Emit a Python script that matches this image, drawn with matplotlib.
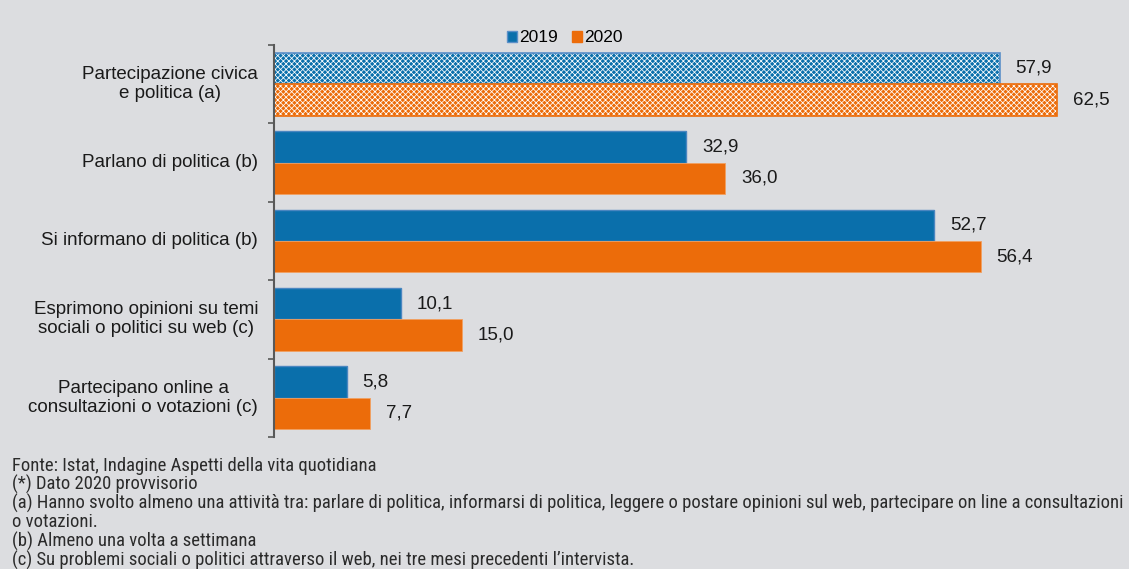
import matplotlib
matplotlib.use("Agg")
import matplotlib.pyplot as plt
from matplotlib import font_manager
import numpy as np

# dati
categorie = [
    "Partecipazione civica\ne politica (a)",
    "Parlano di politica (b)",
    "Si informano di politica (b)",
    "Esprimono opinioni su temi\nsociali o politici su web (c)",
    "Partecipano online a\nconsultazioni o votazioni (c)",
]
valori_2019 = [57.9, 32.9, 52.7, 10.1, 5.8]
valori_2020 = [62.5, 36.0, 56.4, 15.0, 7.7]
anni = ["2019", "2020"]
note = [
    "Fonte: Istat, Indagine Aspetti della vita quotidiana",
    "(*) Dato 2020 provvisorio",
    "(a) Hanno svolto almeno una attività tra: parlare di politica, informarsi di politica, leggere o postare opinioni sul web, partecipare on line a consultazioni",
    "o votazioni.",
    "(b) Almeno una volta a settimana",
    "(c) Su problemi sociali o politici attraverso il web, nei tre mesi precedenti l’intervista.",
]

BLU = "#0a6fab"
ARANCIO = "#ec6c0a"
SFONDO = "#dcdde0"

plt.rcParams["font.family"] = ["Liberation Sans", "DejaVu Sans"]
plt.rcParams["hatch.linewidth"] = 0.55


def font_stretto():
    # cerca un font condensato tra quelli installati
    cand = []
    for f in font_manager.fontManager.ttflist:
        nome = f.name.lower()
        if f.style != "normal" or f.weight not in (400, "normal", "regular"):
            continue
        if "narrow" in nome or "condensed" in nome or f.stretch in ("condensed", "semi-condensed"):
            cand.append(f)
    pref = ["liberation sans narrow", "roboto condensed", "dejavu sans condensed", "open sans condensed"]
    for p in pref:
        for f in cand:
            if f.name.lower() == p:
                return font_manager.FontProperties(fname=f.fname)
    if cand:
        return font_manager.FontProperties(fname=cand[0].fname)
    return font_manager.FontProperties(family="DejaVu Sans")


fig = plt.figure(figsize=(11.29, 5.69), dpi=100, facecolor=SFONDO)
ax = fig.add_axes([0.2427, 0.232, 0.7325, 0.689], facecolor=SFONDO)

y = np.arange(len(categorie))
h = 0.4

for i, (v1, v2) in enumerate(zip(valori_2019, valori_2020)):
    if i == 0:
        # primo gruppo con retino
        ax.barh(y[i] - h / 2, v1, height=h, color=BLU, edgecolor="white",
                hatch="xxxxxx", linewidth=0)
        ax.barh(y[i] - h / 2, v1, height=h, fill=False, edgecolor="#5b8fc8", linewidth=1.2)
        ax.barh(y[i] + h / 2, v2, height=h, color=ARANCIO, edgecolor="white",
                hatch="xxxxxx", linewidth=0)
        ax.barh(y[i] + h / 2, v2, height=h, fill=False, edgecolor=ARANCIO, linewidth=1.2)
    else:
        ax.barh(y[i] - h / 2, v1, height=h, color=BLU, edgecolor="#4a86c0", linewidth=1)
        ax.barh(y[i] + h / 2, v2, height=h, color=ARANCIO, edgecolor="#f2a060", linewidth=0.6)
    for v, off in ((v1, -h / 2), (v2, h / 2)):
        ax.annotate(f"{v:.1f}".replace(".", ","), (v, y[i] + off), xytext=(11.5, 0),
                    textcoords="offset points", ha="left", va="center", fontsize=13.5,
                    color="#1a1a1a")
    ax.annotate(categorie[i], (0, y[i]), xytext=(-11.5, 0), textcoords="offset points",
                ha="right", va="center", ma="center", fontsize=13.5, color="#1a1a1a",
                annotation_clip=False, linespacing=1.15)

ax.set_xlim(0, 66)
ax.set_ylim(len(categorie) - 0.5, -0.5)
ax.set_xticks([])
ax.set_yticks(np.arange(-0.5, len(categorie)))
ax.set_yticklabels([])
ax.tick_params(axis="y", length=4, width=1.2, color="#595959", direction="out")
for s in ("top", "right", "bottom"):
    ax.spines[s].set_visible(False)
ax.spines["left"].set_color("#595959")
ax.spines["left"].set_linewidth(1.5)

# legenda
maniglie = [plt.Rectangle((0, 0), 1, 1, facecolor=BLU, edgecolor="#5b8fc8"),
            plt.Rectangle((0, 0), 1, 1, facecolor=ARANCIO, edgecolor=ARANCIO)]
fig.legend(maniglie, anni, loc="center", bbox_to_anchor=(565 / 1129, 1 - 38 / 569),
           ncol=2, frameon=False, fontsize=12.5, handlelength=0.55, handleheight=0.55,
           handletextpad=0.15, columnspacing=0.8)

# note
fp = font_stretto()
fp.set_size(13.4)
for k, riga in enumerate(note):
    fig.text(12 / 1129, 1 - (466 + k * 18.8) / 569, riga, ha="left", va="center",
             fontproperties=fp, color="#2b2b2b")

fig.savefig("out.png", dpi=100, facecolor=SFONDO)
